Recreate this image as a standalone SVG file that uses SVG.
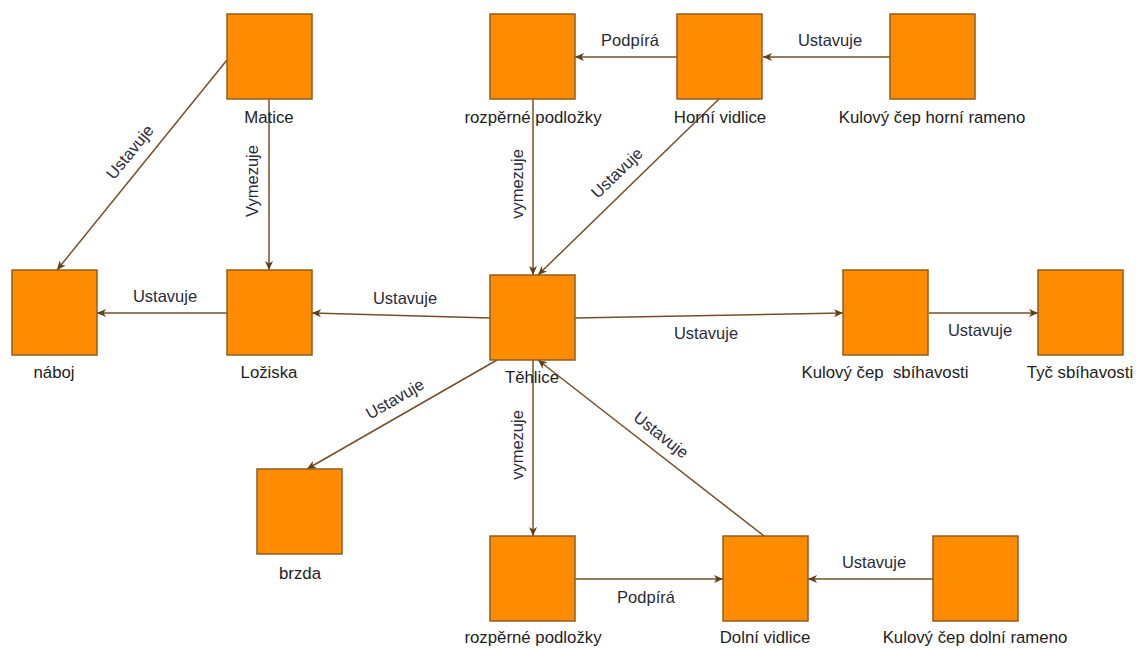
<svg xmlns="http://www.w3.org/2000/svg" width="1137" height="648" viewBox="0 0 1137 648">
<style>
.box{fill:#FF8C00;stroke:#8F5E1F;stroke-width:1.5}
.edge{fill:none;stroke:#74502A;stroke-width:1.5;marker-end:url(#arr)}
.nl{font-family:"Liberation Sans",Arial,sans-serif;font-size:16.8px;fill:#222;text-anchor:middle}
.el{font-family:"Liberation Sans",Arial,sans-serif;font-size:16.5px;fill:#2b2b3b;text-anchor:middle}
</style>
<defs>
<marker id="arr" markerUnits="userSpaceOnUse" markerWidth="10" markerHeight="10" viewBox="0 0 10 10" refX="9" refY="5" orient="auto">
<path d="M0,1 L9,5 L0,9 L2.5,5 z" fill="#5E3F1C"/>
</marker>
</defs>
<rect width="1137" height="648" fill="#fff"/>
<g id="connectors">
<path class="edge" d="M227,60 L57,270"/>
<path class="edge" d="M269,99 L269,270"/>
<path class="edge" d="M227,313 L97,313"/>
<path class="edge" d="M490,318 L312,313"/>
<path class="edge" d="M575,318 L843,313"/>
<path class="edge" d="M929,313 L1038,313"/>
<path class="edge" d="M533,99 L533,275"/>
<path class="edge" d="M719,99 L538,275"/>
<path class="edge" d="M890,57 L763,57"/>
<path class="edge" d="M677,57 L575,57"/>
<path class="edge" d="M497,360 L307,469"/>
<path class="edge" d="M533,360 L533,536"/>
<path class="edge" d="M764,536 L538,360"/>
<path class="edge" d="M575,579 L723,579"/>
<path class="edge" d="M933,579 L808,579"/>
<text class="el" transform="translate(130,152) rotate(-51)" y="5.5">Ustavuje</text>
<text class="el" transform="translate(252,181) rotate(-90)" y="5.5">Vymezuje</text>
<text class="el" x="165" y="302">Ustavuje</text>
<text class="el" x="405" y="304">Ustavuje</text>
<text class="el" x="706" y="339">Ustavuje</text>
<text class="el" x="980" y="336">Ustavuje</text>
<text class="el" transform="translate(517,184) rotate(-90)" y="5.5">vymezuje</text>
<text class="el" transform="translate(617,173) rotate(-44)" y="5.5">Ustavuje</text>
<text class="el" x="830" y="46">Ustavuje</text>
<text class="el" x="630" y="46">Podpírá</text>
<text class="el" transform="translate(395,399) rotate(-30)" y="5.5">Ustavuje</text>
<text class="el" transform="translate(517,445) rotate(-90)" y="5.5">vymezuje</text>
<text class="el" transform="translate(661,435) rotate(38)" y="5.5">Ustavuje</text>
<text class="el" x="646" y="603">Podpírá</text>
<text class="el" x="874" y="568">Ustavuje</text>
</g>
<g id="matice"><rect class="box" x="227" y="14" width="85" height="85"/><text class="nl" x="269" y="123">Matice</text></g>
<g id="naboj"><rect class="box" x="12" y="270" width="85" height="85"/><text class="nl" x="54" y="378">náboj</text></g>
<g id="loziska"><rect class="box" x="227" y="270" width="85" height="85"/><text class="nl" x="269" y="378">Ložiska</text></g>
<g id="podlozky-horni"><rect class="box" x="490" y="14" width="85" height="85"/><text class="nl" x="533" y="123">rozpěrné podložky</text></g>
<g id="horni-vidlice"><rect class="box" x="677" y="14" width="85" height="85"/><text class="nl" x="720" y="123">Horní vidlice</text></g>
<g id="cep-horni"><rect class="box" x="890" y="14" width="85" height="85"/><text class="nl" x="932" y="123">Kulový čep horní rameno</text></g>
<g id="tehlice"><rect class="box" x="490" y="275" width="85" height="85"/><text class="nl" x="532" y="383">Těhlice</text></g>
<g id="cep-sbihavosti"><rect class="box" x="843" y="270" width="85" height="85"/><text class="nl" x="885" y="378" xml:space="preserve">Kulový čep  sbíhavosti</text></g>
<g id="tyc-sbihavosti"><rect class="box" x="1038" y="270" width="85" height="85"/><text class="nl" x="1080" y="378">Tyč sbíhavosti</text></g>
<g id="brzda"><rect class="box" x="257" y="469" width="85" height="85"/><text class="nl" x="300" y="579">brzda</text></g>
<g id="podlozky-dolni"><rect class="box" x="490" y="536" width="85" height="85"/><text class="nl" x="533" y="643">rozpěrné podložky</text></g>
<g id="dolni-vidlice"><rect class="box" x="723" y="536" width="85" height="85"/><text class="nl" x="765" y="643">Dolní vidlice</text></g>
<g id="cep-dolni"><rect class="box" x="933" y="536" width="85" height="85"/><text class="nl" x="975" y="643">Kulový čep dolní rameno</text></g>
</svg>
